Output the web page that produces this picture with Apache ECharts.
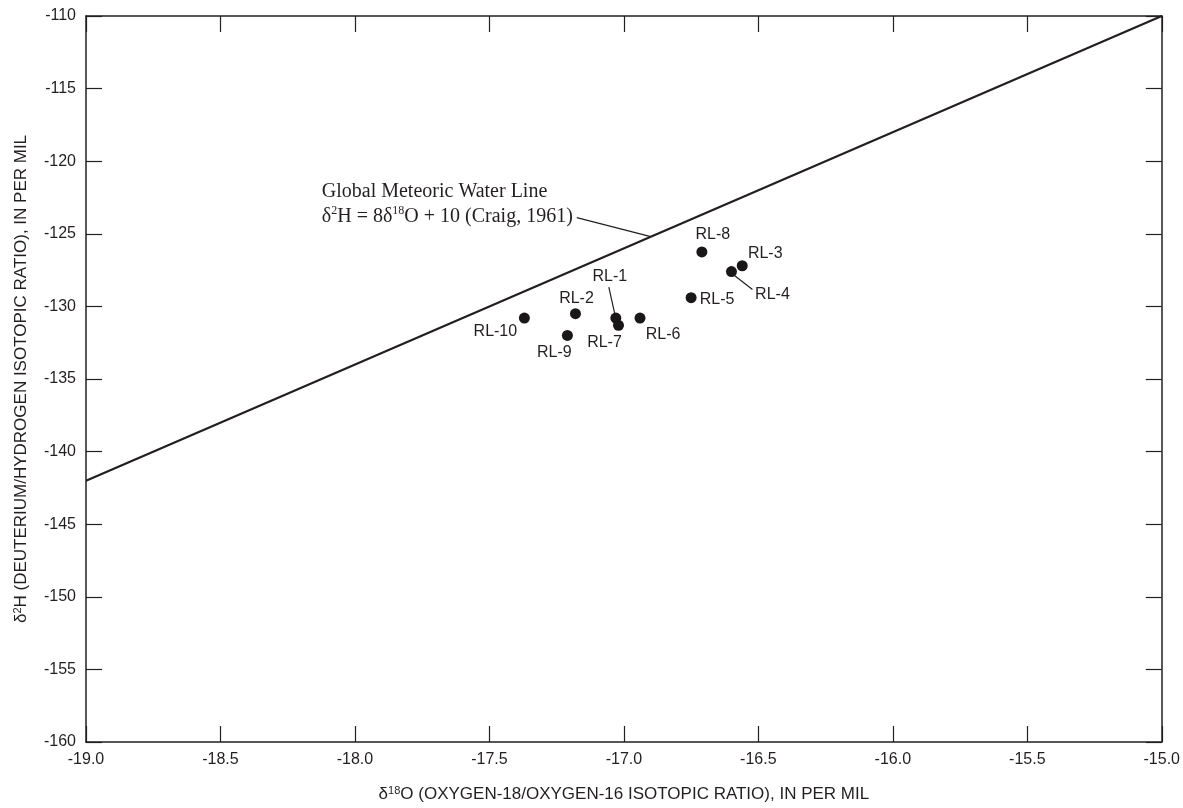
<!DOCTYPE html>
<html><head><meta charset="utf-8">
<script src="https://cdn.jsdelivr.net/npm/echarts@6/dist/echarts.min.js"></script>
<style>html,body{margin:0;padding:0;background:#fff}#c{width:1183px;height:808px}</style>
</head><body><div id="c"></div>
<script>
var sites = ['RL-1','RL-2','RL-3','RL-4','RL-5','RL-6','RL-7','RL-8','RL-9','RL-10'];
var d18O  = [-17.03,-17.18,-16.56,-16.60,-16.75,-16.94,-17.02,-16.71,-17.21,-17.37];
var d2H   = [-130.8,-130.5,-127.2,-127.6,-129.4,-130.8,-131.3,-126.25,-132.0,-130.8];
var gmwlX = [-19, -15];
var gmwlY = [-142, -110];
var xTicks = [-19.0,-18.5,-18.0,-17.5,-17.0,-16.5,-16.0,-15.5,-15.0];
var yTicks = [-160,-155,-150,-145,-140,-135,-130,-125,-120,-115,-110];

// label layout (pixel offsets of label centre from the point)
var labelOffset = {
 'RL-8':[11,-17],'RL-3':[23,-12],'RL-4':[41,23],'RL-5':[26,2],'RL-6':[23,17],
 'RL-1':[-6,-41],'RL-7':[-14,17],'RL-2':[1,-15],'RL-10':[-29,14],'RL-9':[-13,17]
};
var leaders = {'RL-1':[[-7,-31],[-1,-4]], 'RL-4':[[3,4],[21,18]]};

var FONT = '"Liberation Sans Narrow","Liberation Sans",Arial,sans-serif';
var INK = '#231f20';
var chart = echarts.init(document.getElementById('c'));
var pts = sites.map(function(s,i){
  return {value:[d18O[i], d2H[i]], name:s, label:{offset:labelOffset[s]}};
});
var axisLine = {lineStyle:{color:INK, width:1.5}};
var tick = {inside:true, length:16, lineStyle:{color:INK, width:1.2}};
var rich = {
  d:{fontFamily:FONT,fontSize:17,color:INK},
  s:{fontFamily:FONT,fontSize:11,color:INK,verticalAlign:'top',padding:[0,0,8,0]},
  t:{fontFamily:FONT,fontSize:17,color:INK}};
var option = {
  animation:false,
  grid:{left:86, right:21, top:16, bottom:65},
  xAxis:[{
    type:'value', min:-19, max:-15, interval:0.5, position:'bottom',
    axisLine:axisLine, axisTick:tick, splitLine:{show:false},
    axisLabel:{color:INK, fontFamily:FONT, fontSize:16, margin:10,
      formatter:function(v){return v.toFixed(1);}},
    name:'{d|δ}{s|18}{t|O (OXYGEN-18/OXYGEN-16 ISOTOPIC RATIO), IN PER MIL}',
    nameLocation:'middle', nameGap:43, nameTextStyle:{rich:rich}
  },{
    type:'value', min:-19, max:-15, interval:0.5, position:'top',
    axisLine:axisLine, axisTick:tick, axisLabel:{show:false}, splitLine:{show:false}
  }],
  yAxis:[{
    type:'value', min:-160, max:-110, interval:5, position:'left',
    axisLine:axisLine, axisTick:tick, splitLine:{show:false},
    axisLabel:{color:INK, fontFamily:FONT, fontSize:16, margin:10},
    name:'{d|δ}{s|2}{t|H (DEUTERIUM/HYDROGEN ISOTOPIC RATIO), IN PER MIL}',
    nameLocation:'middle', nameGap:55, nameRotate:90, nameTextStyle:{rich:rich}
  },{
    type:'value', min:-160, max:-110, interval:5, position:'right',
    axisLine:axisLine, axisTick:tick, axisLabel:{show:false}, splitLine:{show:false}
  }],
  series:[{
    type:'line', data:gmwlX.map(function(x,i){return [x,gmwlY[i]];}),
    symbol:'none', lineStyle:{color:INK, width:2.2}, silent:true
  },{
    type:'scatter', data:pts, symbolSize:11,
    itemStyle:{color:'#1a1718', opacity:1},
    label:{show:true, position:'inside', formatter:'{b}', color:INK,
      fontFamily:FONT, fontSize:16, opacity:1}
  }]
};
chart.setOption(option);

// annotation + leader lines
var g = [];
function px(x,y){return chart.convertToPixel({xAxisIndex:0,yAxisIndex:0},[x,y]);}
Object.keys(leaders).forEach(function(s){
  var i = sites.indexOf(s); var p = px(d18O[i], d2H[i]); var L = leaders[s];
  g.push({type:'line', shape:{x1:p[0]+L[0][0], y1:p[1]+L[0][1], x2:p[0]+L[1][0], y2:p[1]+L[1][1]},
    style:{stroke:INK, lineWidth:1.2}, z:10});
});
var lp = px(-16.90, 8*-16.90+10);
g.push({type:'line', shape:{x1:lp[0]-74, y1:lp[1]-19, x2:lp[0], y2:lp[1]}, style:{stroke:INK, lineWidth:1.2}, z:10});
g.push({type:'text', x:lp[0]-329, y:lp[1]-57, style:{
  text:'Global Meteoric Water Line\n{d|δ}{s|2}H = 8{d|δ}{s|18}O + 10 (Craig, 1961)',
  font:'20px "Liberation Serif","Times New Roman",serif', fill:INK, lineHeight:25,
  rich:{d:{font:'20px "Liberation Serif",serif', fill:INK, lineHeight:25},
        s:{font:'12px "Liberation Serif",serif', fill:INK, verticalAlign:'top', padding:[0,0,8,0]}}
}, z:10});
chart.setOption({graphic:g});
</script></body></html>
